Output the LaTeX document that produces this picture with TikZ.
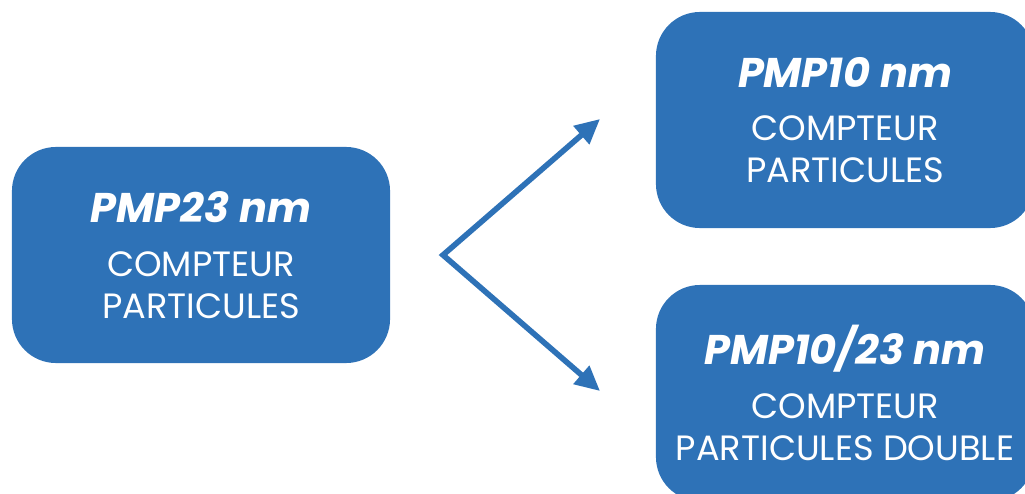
\documentclass[tikz,border=0pt]{standalone}
\usepackage{fontspec}
\setmainfont{Poppins}
\usetikzlibrary{arrows.meta, positioning}
\definecolor{boxblue}{RGB}{46, 114, 183}

\begin{document}
\begin{tikzpicture}[x=0.025cm, y=-0.025cm,
    card/.style={rectangle, rounded corners=1.1cm, fill=boxblue, text=white, minimum width=9.45cm, minimum height=5.4cm, align=center, font=\fontsize{25}{30}\selectfont},
    flow/.style={{Triangle[length=0.62cm, width=0.58cm]}-{Triangle[length=0.62cm, width=0.58cm]}, line width=4pt, draw=boxblue, line join=miter}
]
    \clip (0,0) rectangle (1025,493);

    \node[card] (pmp23) at (201,255) {
        {\fontsize{29.5}{30}\selectfont\bfseries\itshape PMP23 nm}\\[8pt]
        COMPTEUR\\
        PARTICULES
    };

    \node[card] (pmp10) at (845,120) {
        {\fontsize{29.5}{30}\selectfont\bfseries\itshape PMP10 nm}\\[8pt]
        COMPTEUR\\
        PARTICULES
    };
    \node[card] (pmpdual) at (845,393) {
        {\fontsize{29.5}{30}\selectfont\bfseries\itshape PMP10/23 nm}\\[8pt]
        COMPTEUR\\
        PARTICULES DOUBLE
    };

    \coordinate (fork) at (443,255);
    \coordinate (uptip) at (600,119);
    \coordinate (downtip) at (600,391);

    \draw[flow] (uptip) -- (fork) -- (downtip);
\end{tikzpicture}
\end{document}
